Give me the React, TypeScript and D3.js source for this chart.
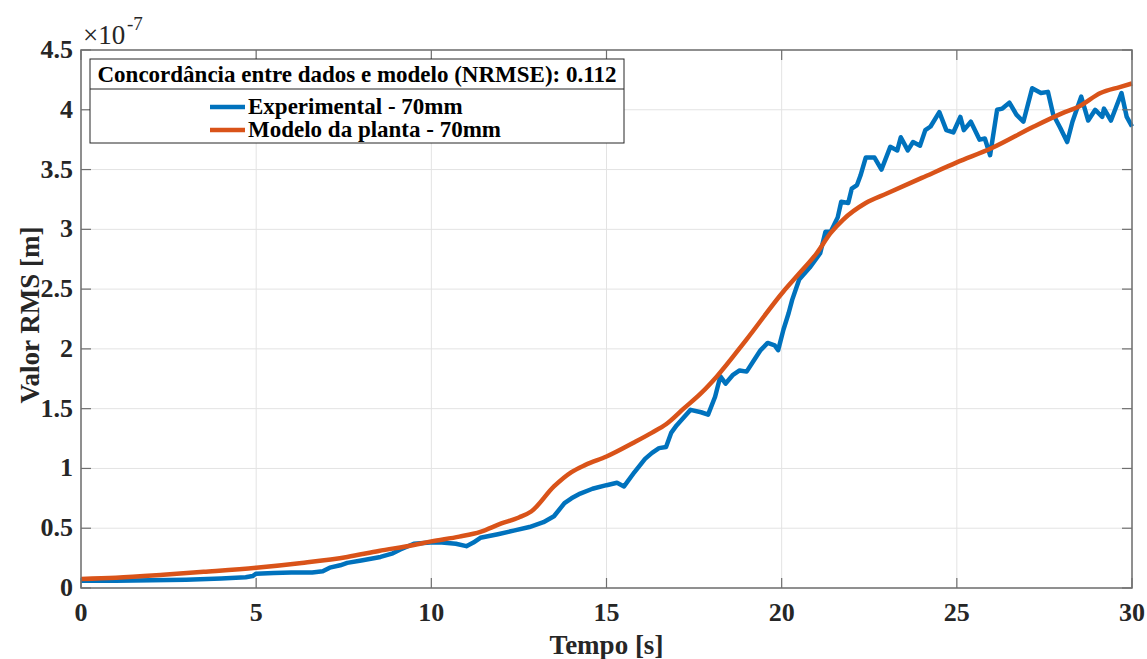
import React from 'react';
import * as d3 from 'd3';

// Experimental - 70mm (x1e-7 m)
const expTime = [0, 1, 2, 3, 4, 4.7, 4.9, 5.0, 5.5, 6.0, 6.6, 6.9, 7.1, 7.4, 7.6, 8.0, 8.55, 8.9, 9.1, 9.5, 9.97, 10.3, 10.7, 11.0, 11.2, 11.4, 11.9, 12.35, 12.8, 13.2, 13.5, 13.8, 14.0, 14.25, 14.6, 15.0, 15.3, 15.5, 15.8, 16.1, 16.3, 16.5, 16.7, 16.85, 17.0, 17.4, 17.7, 17.9, 18.1, 18.25, 18.4, 18.6, 18.8, 19.0, 19.2, 19.4, 19.6, 19.8, 19.9, 20.05, 20.2, 20.3, 20.5, 20.8, 21.1, 21.25, 21.4, 21.6, 21.7, 21.9, 22.0, 22.15, 22.25, 22.4, 22.65, 22.85, 23.1, 23.3, 23.4, 23.6, 23.75, 23.95, 24.1, 24.25, 24.5, 24.7, 24.9, 25.1, 25.2, 25.4, 25.65, 25.8, 25.95, 26.15, 26.3, 26.5, 26.7, 26.9, 27.15, 27.4, 27.6, 27.75, 27.95, 28.15, 28.3, 28.55, 28.75, 28.95, 29.15, 29.2, 29.4, 29.7, 29.85, 30];
const expValue = [0.06, 0.06, 0.065, 0.07, 0.08, 0.09, 0.1, 0.12, 0.125, 0.13, 0.13, 0.14, 0.17, 0.19, 0.21, 0.23, 0.26, 0.29, 0.32, 0.37, 0.38, 0.38, 0.37, 0.35, 0.38, 0.42, 0.45, 0.48, 0.51, 0.55, 0.6, 0.71, 0.75, 0.79, 0.83, 0.86, 0.88, 0.85, 0.97, 1.08, 1.13, 1.17, 1.18, 1.3, 1.36, 1.49, 1.47, 1.45, 1.6, 1.77, 1.71, 1.78, 1.82, 1.81, 1.9, 1.99, 2.05, 2.03, 1.99, 2.16, 2.3, 2.41, 2.58, 2.68, 2.8, 2.98, 2.98, 3.1, 3.23, 3.22, 3.34, 3.37, 3.45, 3.6, 3.6, 3.5, 3.69, 3.66, 3.77, 3.66, 3.73, 3.7, 3.83, 3.86, 3.98, 3.83, 3.81, 3.94, 3.83, 3.9, 3.75, 3.76, 3.62, 4.0, 4.01, 4.06, 3.96, 3.9, 4.18, 4.14, 4.15, 3.96, 3.85, 3.73, 3.9, 4.11, 3.91, 4.0, 3.94, 4.01, 3.91, 4.14, 3.94, 3.86];

// Modelo da planta - 70mm
const modelTime = [0, 1, 2.35, 3.5, 5, 6.3, 7.6, 8.5, 9.5, 10, 10.8, 11.4, 12.0, 12.5, 12.85, 13.5, 14.0, 14.4, 15.0, 15.8, 16.3, 16.7, 17.2, 17.7, 18.15, 19.0, 20.05, 20.5, 21.0, 21.4, 21.75, 22.4, 23.0, 24.0, 25.0, 26.0, 27.2, 28.0, 28.5, 29.1, 29.65, 30];
const modelValue = [0.075, 0.085, 0.11, 0.135, 0.17, 0.21, 0.26, 0.31, 0.36, 0.39, 0.43, 0.47, 0.54, 0.59, 0.64, 0.85, 0.97, 1.03, 1.1, 1.22, 1.3, 1.37, 1.5, 1.63, 1.77, 2.08, 2.48, 2.63, 2.8, 2.97, 3.08, 3.22, 3.3, 3.43, 3.56, 3.68, 3.86, 3.97, 4.03, 4.14, 4.19, 4.22];

const xTicks = [0, 5, 10, 15, 20, 25, 30];
const yTicks = [0, 0.5, 1, 1.5, 2, 2.5, 3, 3.5, 4, 4.5];
const seriesNames = ['Experimental - 70mm', 'Modelo da planta - 70mm'];
const seriesColors = ['#0072BD', '#D95319'];
const legendTitle = 'Concordância entre dados e modelo (NRMSE): 0.112';

const W = 1147;
const H = 659;
const margin = { left: 81, right: W - 1132, top: 50, bottom: H - 588 };
const font = "'Liberation Serif', 'Times New Roman', serif";

export default function App() {
  const x = d3.scaleLinear().domain([0, 30]).range([margin.left, W - margin.right]);
  const y = d3.scaleLinear().domain([0, 4.5]).range([H - margin.bottom, margin.top]);

  const expData = expTime.map((t, i) => [t, expValue[i]] as [number, number]);
  const modelData = modelTime.map((t, i) => [t, modelValue[i]] as [number, number]);

  const lineExp = d3.line<[number, number]>().x(d => x(d[0])).y(d => y(d[1]));
  const lineModel = d3.line<[number, number]>().x(d => x(d[0])).y(d => y(d[1])).curve(d3.curveMonotoneX);

  const x0 = x(0), x1 = x(30), y0 = y(0), y1 = y(4.5);
  const axisColor = '#6f6f6f';
  const tickLen = 10;

  // legenda
  const lg = { left: 90, top: 59, right: 624, sep: 89, bottom: 143 };
  const entryY = [107, 130];

  return (
    <svg width={W} height={H} style={{ position: 'absolute', left: 0, top: 0, background: '#fff', fontFamily: font }}>
      <rect x={0} y={0} width={W} height={H} fill="#fff" />

      {/* grade */}
      {xTicks.map(t => (
        <line key={'gx' + t} x1={x(t)} x2={x(t)} y1={y0} y2={y1} stroke="#e3e3e3" strokeWidth={1} />
      ))}
      {yTicks.map(t => (
        <line key={'gy' + t} x1={x0} x2={x1} y1={y(t)} y2={y(t)} stroke="#e3e3e3" strokeWidth={1} />
      ))}

      {/* séries */}
      <path d={lineExp(expData) || ''} fill="none" stroke={seriesColors[0]} strokeWidth={4.5} strokeLinejoin="round" />
      <path d={lineModel(modelData) || ''} fill="none" stroke={seriesColors[1]} strokeWidth={4.5} strokeLinejoin="round" />

      {/* eixos */}
      <rect x={x0} y={y1} width={x1 - x0} height={y0 - y1} fill="none" stroke={axisColor} strokeWidth={1.5} />
      {xTicks.map(t => (
        <g key={'tx' + t}>
          <line x1={x(t)} x2={x(t)} y1={y0} y2={y0 - tickLen} stroke={axisColor} strokeWidth={1.2} />
          <line x1={x(t)} x2={x(t)} y1={y1} y2={y1 + tickLen} stroke={axisColor} strokeWidth={1.2} />
          <text x={x(t)} y={y0 + 33} textAnchor="middle" fontSize={26} fontWeight="bold" fill="#262626">{t}</text>
        </g>
      ))}
      {yTicks.map(t => (
        <g key={'ty' + t}>
          <line x1={x0} x2={x0 + tickLen} y1={y(t)} y2={y(t)} stroke={axisColor} strokeWidth={1.2} />
          <line x1={x1} x2={x1 - tickLen} y1={y(t)} y2={y(t)} stroke={axisColor} strokeWidth={1.2} />
          <text x={x0 - 8} y={y(t) + 8} textAnchor="end" fontSize={26} fontWeight="bold" fill="#262626">{t}</text>
        </g>
      ))}

      {/* expoente */}
      <text x={83} y={44} fontSize={27} fill="#262626">×10</text>
      <text x={127} y={30} fontSize={19} fill="#262626">-7</text>

      {/* rótulos */}
      <text x={(x0 + x1) / 2} y={654} textAnchor="middle" fontSize={27} fontWeight="bold" fill="#262626">Tempo [s]</text>
      <text transform={`translate(39,${(y0 + y1) / 2 - 4}) rotate(-90)`} textAnchor="middle" fontSize={27} fontWeight="bold" fill="#262626">Valor RMS [m]</text>

      {/* legenda */}
      <rect x={lg.left} y={lg.top} width={lg.right - lg.left} height={lg.bottom - lg.top} fill="#fff" stroke="#262626" strokeWidth={1} />
      <line x1={lg.left} x2={lg.right} y1={lg.sep} y2={lg.sep} stroke="#262626" strokeWidth={1} />
      <text x={(lg.left + lg.right) / 2} y={82} textAnchor="middle" fontSize={23} fontWeight="bold" fill="#000">{legendTitle}</text>
      {seriesNames.map((name, i) => (
        <g key={name}>
          <line x1={210} x2={245} y1={entryY[i]} y2={entryY[i]} stroke={seriesColors[i]} strokeWidth={4.5} />
          <text x={248} y={entryY[i] + 7} fontSize={23} fontWeight="bold" fill="#000">{name}</text>
        </g>
      ))}
    </svg>
  );
}
